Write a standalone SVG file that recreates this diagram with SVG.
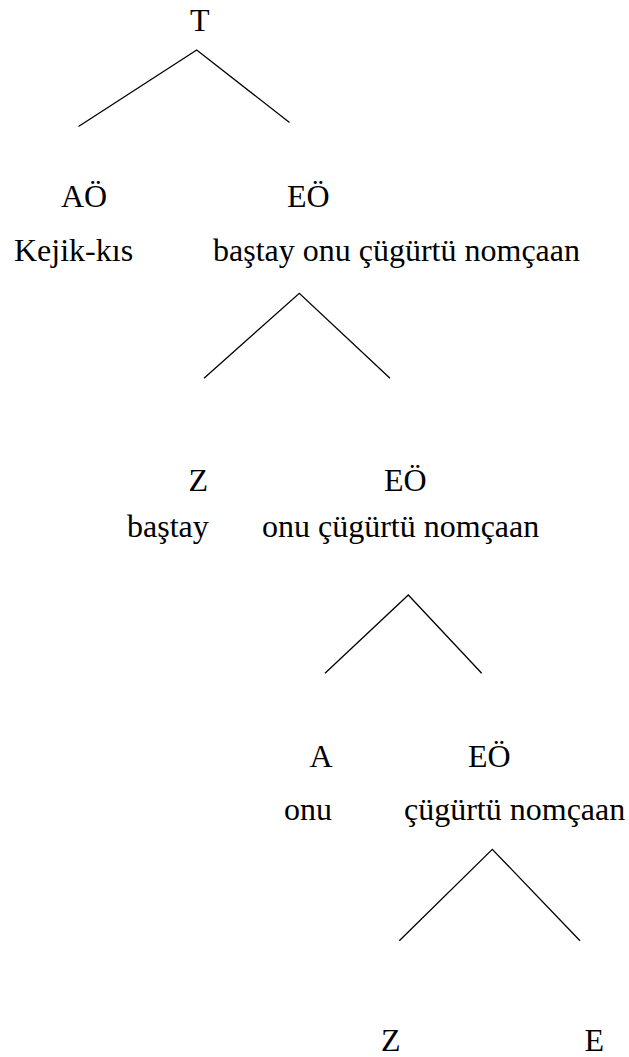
<svg xmlns="http://www.w3.org/2000/svg" width="629" height="1057" viewBox="0 0 629 1057">
<style>
text { font-family: "Liberation Serif", "Times New Roman", serif; font-size: 32px; fill: #000; }
.edge { stroke: #000; stroke-width: 1.3; fill: none; }
</style>
<rect width="629" height="1057" fill="#fff"/>
<g id="connectors">
<polyline class="edge" points="78.5,126.5 196.7,50 289.5,122.5"/>
<polyline class="edge" points="204,378.3 299.3,293.3 390,378.3"/>
<polyline class="edge" points="325,673.3 408.3,595 481.7,673.3"/>
<polyline class="edge" points="399.3,940.7 492.3,849.3 580,940.7"/>
</g>
<g id="node-T"><text x="190" y="31">T</text></g>
<g id="node-AO"><text x="61" y="207">AÖ</text><text x="14" y="261">Kejik-kıs</text></g>
<g id="node-EO1"><text x="287" y="207">EÖ</text><text x="213" y="261">baştay onu çügürtü nomçaan</text></g>
<g id="node-Z1"><text x="188.5" y="491">Z</text><text x="127" y="537">baştay</text></g>
<g id="node-EO2"><text x="384" y="491">EÖ</text><text x="262" y="537">onu çügürtü nomçaan</text></g>
<g id="node-A"><text x="309.5" y="767">A</text><text x="284" y="820">onu</text></g>
<g id="node-EO3"><text x="468" y="767">EÖ</text><text x="404" y="820">çügürtü nomçaan</text></g>
<g id="node-Z2"><text x="381" y="1051">Z</text></g>
<g id="node-E"><text x="584.5" y="1051">E</text></g>
</svg>
